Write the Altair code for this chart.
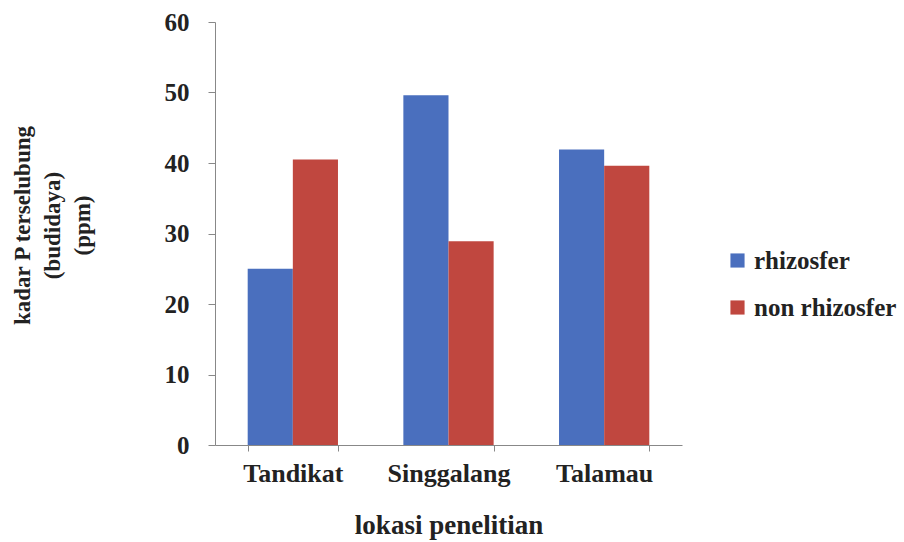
import altair as alt
import pandas as pd

# Available phosphorus (ppm) per sampling site, rhizosphere vs non-rhizosphere soil
locations = ["Tandikat", "Singgalang", "Talamau"]
rhizosfer = [25.0, 49.6, 41.9]
non_rhizosfer = [40.5, 28.9, 39.6]
series = ["rhizosfer", "non rhizosfer"]
colors = ["#4A6FBE", "#C0473F"]

rows = []
for i, loc in enumerate(locations):
    rows.append({"lokasi": loc, "jenis": series[0], "nilai": rhizosfer[i]})
    rows.append({"lokasi": loc, "jenis": series[1], "nilai": non_rhizosfer[i]})
df = pd.DataFrame(rows)

FONT = "Liberation Serif"
INK = "#222222"

chart = (
    alt.Chart(df)
    .mark_bar()
    .encode(
        x=alt.X(
            "lokasi:N",
            sort=locations,
            scale=alt.Scale(paddingInner=0.42, paddingOuter=0.21),
            axis=alt.Axis(
                title="lokasi penelitian",
                labelAngle=0,
                labelFont=FONT,
                labelFontSize=26,
                labelFontWeight="bold",
                labelColor=INK,
                labelPadding=9,
                grid=False,
                tickBand="extent",
                tickSize=6,
                tickColor="#888",
                domainColor="#888",
                titleFont=FONT,
                titleFontSize=27,
                titleFontWeight="bold",
                titleColor=INK,
                titlePadding=26,
            ),
        ),
        xOffset=alt.XOffset("jenis:N", sort=series),
        y=alt.Y(
            "nilai:Q",
            scale=alt.Scale(domain=[0, 60]),
            axis=alt.Axis(
                values=[0, 10, 20, 30, 40, 50, 60],
                grid=False,
                title=["kadar P terselubung", "(budidaya)", "(ppm)"],
                titleAngle=-90,
                titleX=-193,
                titleY=203,
                titleAlign="center",
                titleBaseline="middle",
                titleLineHeight=30,
                titleFont=FONT,
                titleFontSize=23,
                titleFontWeight="bold",
                titleColor=INK,
                labelFont=FONT,
                labelFontSize=25,
                labelFontWeight="bold",
                labelColor=INK,
                labelPadding=19,
                tickSize=7,
                tickColor="#888",
                domainColor="#888",
            ),
        ),
        color=alt.Color(
            "jenis:N",
            sort=series,
            scale=alt.Scale(domain=series, range=colors),
            legend=alt.Legend(
                title=None,
                orient="none",
                legendX=510,
                legendY=226,
                symbolType="square",
                symbolSize=200,
                symbolStrokeWidth=0,
                labelFont=FONT,
                labelFontSize=25,
                labelFontWeight="bold",
                labelColor=INK,
                labelOffset=4,
                rowPadding=21,
            ),
        ),
    )
    .properties(
        width=467,
        height=423,
        autosize=alt.AutoSizeParams(type="none"),
        padding={"left": 215, "top": 22, "right": 222, "bottom": 97},
    )
    .configure(background="white", view=alt.ViewConfig(stroke="transparent", strokeWidth=0))
)

chart.save("out.html", embed_options={"renderer": "svg", "actions": False})
